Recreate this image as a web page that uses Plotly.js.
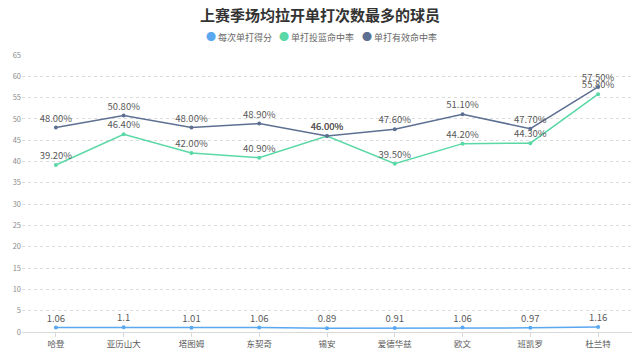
<!DOCTYPE html>
<html><head><meta charset="utf-8">
<script src="https://cdn.plot.ly/plotly-3.0.1.min.js"></script>
<style>html,body{margin:0;padding:0;background:#fff}#c{width:640px;height:357px}</style>
</head><body><div id="c"></div>
<script>
const players = ["哈登","亚历山大","塔图姆","东契奇","锡安","爱德华兹","欧文","班凯罗","杜兰特"];
const scorePer = [1.06,1.1,1.01,1.06,0.89,0.91,1.06,0.97,1.16];
const fgPct = [39.2,46.4,42.0,40.9,46.0,39.5,44.2,44.3,55.8];
const effPct = [48.0,50.8,48.0,48.9,46.0,47.6,51.1,47.7,57.5];
const yTicks = [0,5,10,15,20,25,30,35,40,45,50,55,60,65];
const seriesNames = ['每次单打得分','单打投篮命中率','单打有效命中率'];
const colors = ['#5AA8F0','#5AD8A6','#5D7092'];

const font = "'Noto Sans CJK SC', 'Noto Sans', sans-serif";
function mk(i, y, txt){
  return {type:'scatter', mode:'lines+markers+text', name:seriesNames[i], x:players, y,
    line:{color:colors[i], width:1.5}, marker:{color:colors[i], size:4},
    text:txt, textposition:'top center', cliponaxis:false, showlegend:false,
    textfont:{family:font, size:9.5, color:'#595959'}};
}
const data = [
  mk(0, scorePer, scorePer.map(v=>String(v))),
  mk(1, fgPct, fgPct.map(v=>v.toFixed(2)+'%')),
  mk(2, effPct, effPct.map(v=>v.toFixed(2)+'%'))
];
// custom compact legend (dot + name), positioned in pixel space
const W = 640, L = 22, R = 8, T = 55, B = 25;
const plotW = W - L - R, plotH = 357 - T - B;
const legendX = [204, 277, 360];
const annotations = seriesNames.map((n, i) => ({
  xref:'paper', yref:'paper', x:(legendX[i]-L)/plotW, y:(332-37)/plotH,
  xanchor:'left', yanchor:'middle', showarrow:false,
  text:'<span style="color:'+colors[i]+';font-size:10px">●</span> '+n,
  font:{family:font, size:9, color:'#666666'}
}));
const layout = {
  width:W, height:357, margin:{l:L,r:R,t:T,b:B},
  paper_bgcolor:'#fff', plot_bgcolor:'#fff',
  title:{text:'<b>上赛季场均拉开单打次数最多的球员</b>', x:0.5, xanchor:'center', y:0.955, yanchor:'middle',
    font:{family:font, size:15, color:'#333333'}},
  showlegend:false,
  annotations,
  xaxis:{type:'category', range:[-0.5,8.5], showgrid:false, zeroline:false,
    showline:true, linecolor:'#d9d9d9', linewidth:1, ticks:'outside', ticklen:4, tickcolor:'#d9d9d9',
    tickfont:{family:font, size:8.5, color:'#595959'}, fixedrange:true},
  yaxis:{range:[0,65], tickvals:yTicks, ticktext:yTicks.map(String), showgrid:true,
    gridcolor:'#dcdcdc', griddash:'dot', gridwidth:1, zeroline:false, showline:false,
    tickfont:{family:font, size:7.5, color:'#8c8c8c'}, ticklen:0, ticks:'', fixedrange:true}
};
Plotly.newPlot('c', data, layout, {displayModeBar:false, staticPlot:true});
</script></body></html>
